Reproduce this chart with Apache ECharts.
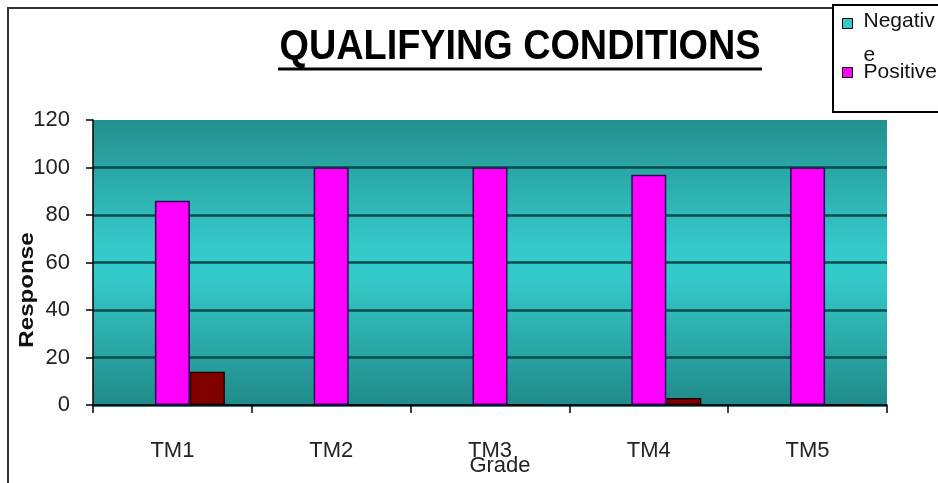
<!DOCTYPE html>
<html>
<head>
<meta charset="utf-8">
<title>Qualifying Conditions</title>
<script src="https://cdn.jsdelivr.net/npm/echarts@6/dist/echarts.min.js"></script>
<style>
  html, body { margin: 0; padding: 0; background: #ffffff; }
  #chart { width: 938px; height: 483px; }
</style>
</head>
<body>
<div id="chart"></div>
<script>
// Grades along the category axis
const grades = ['TM1', 'TM2', 'TM3', 'TM4', 'TM5'];
// Responses per grade (percent)
const negativeValues = [0, 0, 0, 0, 0];
const positiveValues = [86, 100, 100, 97, 100];
const remainderValues = [14, 0, 0, 3, 0];
// Value axis ticks
const responseTicks = { min: 0, max: 120, interval: 20 };

const FONT = 'Liberation Sans, Arial, Helvetica, sans-serif';

const chart = echarts.init(document.getElementById('chart'), null, { renderer: 'canvas' });

const option = {
  animation: false,
  backgroundColor: '#ffffff',
  textStyle: { fontFamily: FONT },
  grid: {
    left: 93, right: 51, top: 120, bottom: 78,
    outerBoundsMode: 'none',
    containLabel: false,
    show: true,
    borderWidth: 0,
    backgroundColor: {
      type: 'linear', x: 0, y: 0, x2: 0, y2: 1,
      colorStops: [
        { offset: 0, color: '#23908f' },
        { offset: 0.45, color: '#35caca' },
        { offset: 0.55, color: '#35caca' },
        { offset: 1, color: '#208a89' }
      ]
    }
  },
  legend: [
    {
      data: [{ name: 'Negative' }],
      left: 842, top: 11,
      padding: 0,
      orient: 'vertical',
      itemWidth: 10, itemHeight: 10,
      icon: 'rect',
      itemStyle: { borderColor: '#000000', borderWidth: 1 },
      formatter: () => '{a|Negativ}\n{b|e}',
      textStyle: {
        fontFamily: FONT, fontSize: 21, color: '#111111',
        padding: [46, 0, 0, 6],
        rich: {
          a: { fontFamily: FONT, fontSize: 21, lineHeight: 18, color: '#111111' },
          b: { fontFamily: FONT, fontSize: 21, lineHeight: 50, color: '#111111' }
        }
      }
    },
    {
      data: [{ name: 'Positive' }],
      left: 842, top: 62,
      padding: 0,
      orient: 'vertical',
      itemWidth: 10, itemHeight: 10,
      icon: 'rect',
      itemStyle: { borderColor: '#000000', borderWidth: 1 },
      textStyle: { fontFamily: FONT, fontSize: 21, color: '#111111', padding: [0, 0, 0, 6] }
    }
  ],
  xAxis: {
    type: 'category',
    data: grades,
    boundaryGap: true,
    name: 'Grade',
    nameLocation: 'middle',
    nameGap: 50,
    nameMoveOverlap: false,
    nameTextStyle: { fontFamily: FONT, fontSize: 22, color: '#222222', padding: [0, 0, 0, 20] },
    axisLine: { show: true, lineStyle: { color: '#000000', width: 1.5 } },
    axisTick: { show: true, length: 8, lineStyle: { color: '#000000', width: 1.5 } },
    axisLabel: { margin: 35, fontSize: 22, color: '#222222', fontFamily: FONT },
    splitLine: { show: false }
  },
  yAxis: {
    type: 'value',
    min: responseTicks.min,
    max: responseTicks.max,
    interval: responseTicks.interval,
    axisLine: { show: true, lineStyle: { color: '#000000', width: 1.5 } },
    axisTick: { show: true, length: 7, lineStyle: { color: '#000000', width: 1.5 } },
    axisLabel: { margin: 23, fontSize: 22, color: '#222222', fontFamily: FONT },
    splitLine: {
      show: true,
      showMaxLine: false,
      lineStyle: { color: '#0a4a4a', width: 2.5 }
    }
  },
  series: [
    {
      name: 'Negative',
      type: 'bar',
      data: negativeValues,
      barWidth: 35,
      barGap: '0%',
      itemStyle: { color: '#33cccc', borderWidth: 0 }
    },
    {
      name: 'Positive',
      type: 'bar',
      data: positiveValues,
      barWidth: 35,
      barGap: '0%',
      itemStyle: { color: '#ff00ff', borderColor: '#2a0a55', borderWidth: 1.5 }
    },
    {
      name: 'Remainder',
      type: 'bar',
      data: remainderValues,
      barWidth: 35,
      barGap: '0%',
      itemStyle: { color: '#800000', borderColor: '#2a0000', borderWidth: 1.5 }
    }
  ],
  graphic: [
    // outer chart frame
    {
      type: 'rect', z: -10, silent: true,
      shape: { x: 8, y: 8, width: 1000, height: 1000 },
      style: { fill: 'none', stroke: '#333333', lineWidth: 2 }
    },
    // legend frame
    {
      type: 'rect', z: 1, silent: true,
      shape: { x: 833, y: 5, width: 200, height: 107 },
      style: { fill: '#ffffff', stroke: '#000000', lineWidth: 2 }
    },
    // title
    {
      type: 'text', z: 10, silent: true,
      x: 520, y: 47,
      scaleX: 0.9,
      style: {
        text: 'QUALIFYING CONDITIONS',
        fontFamily: FONT, fontSize: 42, fontWeight: 'bold',
        fill: '#000000', align: 'center', verticalAlign: 'middle'
      }
    },
    {
      type: 'line', z: 10, silent: true,
      shape: { x1: 278, y1: 69, x2: 762, y2: 69 },
      style: { stroke: '#000000', lineWidth: 3 }
    },
    // value axis title
    {
      type: 'text', z: 10, silent: true,
      x: 27, y: 290,
      rotation: Math.PI / 2,
      scaleX: 1.15,
      style: {
        text: 'Response',
        fontFamily: FONT, fontSize: 21, fontWeight: 'bold',
        fill: '#111111', align: 'center', verticalAlign: 'middle'
      }
    }
  ]
};

chart.setOption(option);
</script>
</body>
</html>
